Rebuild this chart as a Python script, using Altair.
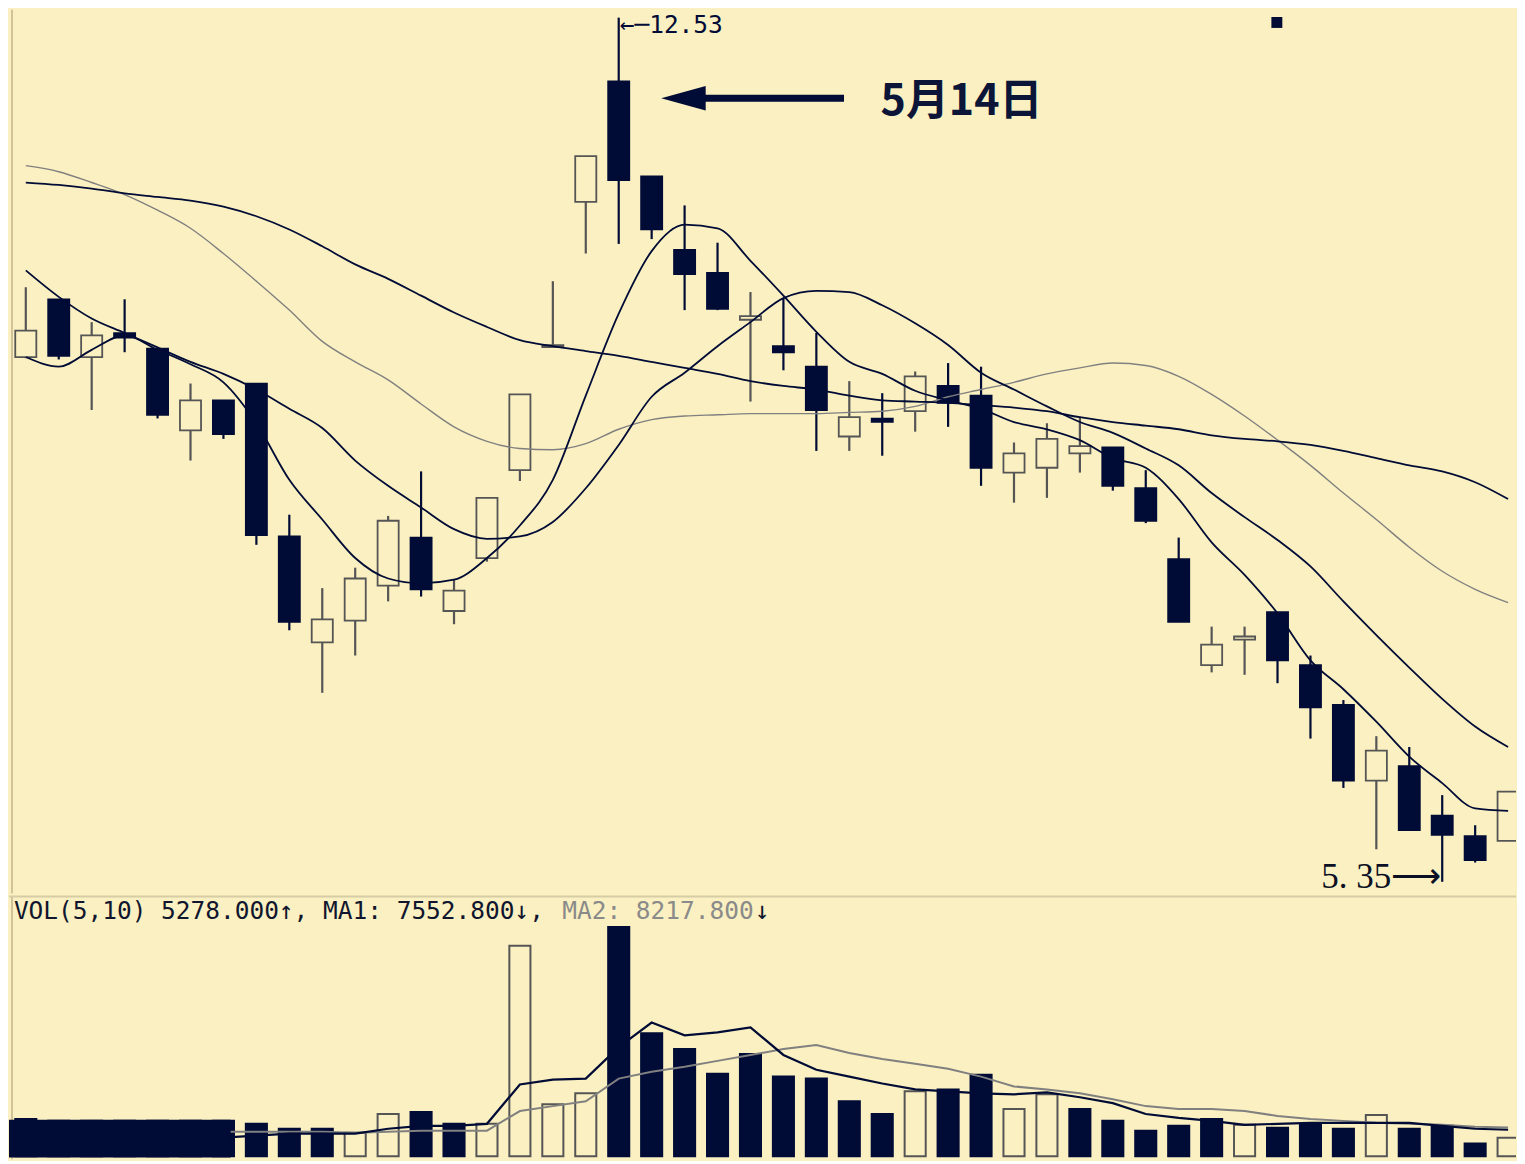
import altair as alt
import pandas as pd

# ---------------- data ----------------
open_ = [9.71, 10.19, 9.71, 9.90, 9.78, 9.10, 9.35, 9.49, 8.22, 7.34,
         7.52, 7.81, 8.21, 7.60, 8.04, 8.77, 9.80, 11.00, 12.00, 11.21,
         10.60, 10.41, 10.02, 9.80, 9.63, 9.05, 9.19, 9.26, 9.47, 9.39,
         8.75, 8.79, 8.91, 8.96, 8.62, 8.03, 7.15, 7.37, 7.59, 7.15,
         6.82, 6.19, 6.31, 5.90, 5.73, 5.69]
close = [9.93, 9.72, 9.89, 9.88, 9.23, 9.35, 9.07, 8.23, 7.51, 7.53,
         7.87, 8.35, 7.78, 7.77, 8.54, 9.40, 9.80, 11.38, 11.18, 10.77,
         10.40, 10.11, 10.05, 9.75, 9.27, 9.21, 9.18, 9.55, 9.33, 8.79,
         8.91, 9.03, 8.97, 8.64, 8.35, 7.51, 7.32, 7.38, 7.19, 6.80,
         6.19, 6.44, 5.78, 5.74, 5.53, 6.10]
high = [10.29, 10.19, 10.00, 10.19, 9.78, 9.49, 9.35, 9.49, 8.40, 7.79,
        7.96, 8.39, 8.76, 7.86, 8.54, 9.40, 10.34, 11.38, 12.53, 11.21,
        10.97, 10.66, 10.25, 10.20, 9.91, 9.51, 9.41, 9.59, 9.66, 9.63,
        9.00, 9.16, 9.21, 8.96, 8.77, 8.21, 7.47, 7.47, 7.59, 7.23,
        6.86, 6.56, 6.47, 6.07, 5.82, 6.10]
low = [9.70, 9.69, 9.27, 9.75, 9.20, 8.85, 9.03, 8.15, 7.44, 6.92,
       7.23, 7.68, 7.72, 7.49, 8.01, 8.68, 9.80, 10.57, 10.65, 10.69,
       10.10, 10.10, 9.34, 9.60, 8.93, 8.93, 8.89, 9.09, 9.13, 8.64,
       8.50, 8.54, 8.75, 8.60, 8.33, 7.51, 7.09, 7.07, 7.00, 6.54,
       6.13, 5.62, 5.78, 5.35, 5.51, 5.69]

ma5 = [9.71, 9.63, 9.77, 9.89, 9.77, 9.65, 9.50, 9.16, 8.69, 8.36,
       8.04, 7.87, 7.83, 7.86, 8.04, 8.31, 8.69, 9.39, 10.07, 10.59,
       10.81, 10.78, 10.51, 10.22, 9.92, 9.67, 9.57, 9.43, 9.35, 9.28,
       9.17, 9.11, 9.02, 8.87, 8.79, 8.53, 8.17, 7.90, 7.58, 7.19,
       6.95, 6.68, 6.39, 6.17, 5.96, 5.94]
ma10 = [10.43, 10.21, 10.03, 9.91, 9.79, 9.67, 9.57, 9.44, 9.28, 9.12,
        8.85, 8.64, 8.46, 8.28, 8.20, 8.22, 8.34, 8.62, 8.98, 9.38,
        9.58, 9.80, 10.00, 10.20, 10.26, 10.25, 10.14, 9.99, 9.81, 9.58,
        9.44, 9.30, 9.17, 9.08, 8.95, 8.81, 8.58, 8.38, 8.19, 7.97,
        7.68, 7.40, 7.13, 6.87, 6.64, 6.47]
ma_slow = [11.16, 11.14, 11.11, 11.07, 11.04, 11.01, 10.96, 10.88, 10.77, 10.63,
           10.48, 10.36, 10.22, 10.08, 9.96, 9.85, 9.80, 9.76, 9.72, 9.67,
           9.62, 9.57, 9.51, 9.47, 9.44, 9.39, 9.35, 9.34, 9.33, 9.31,
           9.29, 9.26, 9.21, 9.17, 9.14, 9.11, 9.06, 9.03, 9.01, 8.98,
           8.93, 8.87, 8.81, 8.76, 8.67, 8.53]
ma_grey = [11.30, 11.25, 11.16, 11.06, 10.93, 10.78, 10.57, 10.34, 10.10, 9.84,
           9.67, 9.52, 9.32, 9.13, 9.01, 8.95, 8.94, 8.99, 9.11, 9.19,
           9.22, 9.23, 9.24, 9.24, 9.24, 9.25, 9.26, 9.30, 9.38, 9.44,
           9.50, 9.57, 9.62, 9.66, 9.64, 9.55, 9.40, 9.22, 9.02, 8.81,
           8.58, 8.36, 8.13, 7.93, 7.78, 7.67]

volume = [10640, 10080, 10080, 10080, 10080, 10080, 10080, 9240, 7840, 7840,
          6720, 12040, 12600, 9240, 9240, 59920, 14840, 17920, 65240, 35000,
          30520, 23520, 29120, 22680, 22120, 15680, 12040, 18480, 19040, 23240,
          13440, 17640, 13440, 10080, 7280, 8680, 10640, 8960, 8120, 9240,
          7840, 11760, 7840, 8680, 3640, 5278]
vol_hollow = [0, 0, 0, 0, 0, 0, 0, 0, 0, 0,
              1, 1, 0, 0, 1, 1, 1, 1, 0, 0,
              0, 0, 0, 0, 0, 0, 0, 1, 0, 0,
              1, 1, 0, 0, 0, 0, 0, 1, 0, 0,
              0, 1, 0, 0, 0, 1]
vol_ma_start = 7
vol_ma1 = [5320, 5880, 6440, 6440, 6440, 7840, 8680, 8680, 9240, 20440,
           21840, 22120, 31080, 38080, 34440, 35280, 36680, 28840, 24640, 22680,
           20720, 19040, 18480, 17920, 17640, 18200, 16800, 15120, 12040, 10920,
           10080, 8960, 9240, 9520, 9520, 9520, 9520, 8680, 7840, 7552.8]
vol_ma2 = [7000, 7000, 7000, 7000, 6720, 7000, 7280, 7280, 7280, 12880,
           14280, 15680, 22120, 24080, 25480, 27160, 28840, 30520, 31640, 29400,
           27720, 26320, 24920, 22680, 19880, 19040, 17920, 16240, 14280, 13440,
           13440, 12880, 11480, 10640, 10080, 9520, 9240, 8960, 8400, 8217.8]
cover_span = [0.49, 7.18]   # dark block hiding the first volume bars
cover_vol = 10080

callout_text = "5月14日"

# ---------------- styling ----------------
BG = "#FBF0C1"
NAVY = "#000B36"
GREY = "#555555"
LGREY = "#808080"
W, H1, H2 = 1509, 885, 263
X_DOMAIN = [0.49, 46.24]
P_DOMAIN = [5.252, 12.5955]
V_DOMAIN = [-840, 73920]
HALF = 0.32

n = len(close)
idx = list(range(1, n + 1))

candles = pd.DataFrame({"idx": idx, "open": open_, "high": high,
                        "low": low, "close": close})
candles["kind"] = ["up" if c >= o else "down" for o, c in zip(open_, close)]

xs = alt.Scale(domain=X_DOMAIN, nice=False, zero=False)
ps = alt.Scale(domain=P_DOMAIN, nice=False, zero=False)
vs = alt.Scale(domain=V_DOMAIN, nice=False, zero=False)
k_fill = alt.Scale(domain=["up", "down"], range=[BG, NAVY])
k_stroke = alt.Scale(domain=["up", "down"], range=[GREY, NAVY])

X = lambda f: alt.X(f, scale=xs, axis=None)
YP = lambda f: alt.Y(f, scale=ps, axis=None)
YV = lambda f: alt.Y(f, scale=vs, axis=None)

base = alt.Chart(candles)
wick = base.mark_rule(strokeWidth=2.2).encode(
    x=X("idx:Q"), y=YP("low:Q"), y2="high:Q",
    stroke=alt.Stroke("kind:N", scale=k_stroke, legend=None))
body = base.transform_calculate(
    x1=f"datum.idx - {HALF}", x2=f"datum.idx + {HALF}",
    top="max(datum.open, datum.close) + (abs(datum.open - datum.close) < 0.02 ? 0.008 : 0)",
    bot="min(datum.open, datum.close) - (abs(datum.open - datum.close) < 0.02 ? 0.008 : 0)",
).mark_bar(strokeWidth=1.8, clip=True).encode(
    x=X("x1:Q"), x2="x2:Q", y=YP("top:Q"), y2="bot:Q",
    fill=alt.Fill("kind:N", scale=k_fill, legend=None),
    stroke=alt.Stroke("kind:N", scale=k_stroke, legend=None))

ma = pd.DataFrame({"idx": idx, "ma5": ma5, "ma10": ma10,
                   "ma_slow": ma_slow, "ma_grey": ma_grey})


def ma_line(field, color, width):
    return alt.Chart(ma).mark_line(color=color, strokeWidth=width, clip=True,
                                   interpolate="monotone").encode(
        x=X("idx:Q"), y=YP(f"{field}:Q"))


lines = [ma_line("ma_grey", LGREY, 1.4), ma_line("ma_slow", NAVY, 1.8),
         ma_line("ma10", NAVY, 1.8), ma_line("ma5", NAVY, 1.8)]

peak = base.transform_joinaggregate(hmax="max(high)").transform_filter(
    "datum.high == datum.hmax").transform_calculate(
    label="'←─' + format(datum.high, '.2f')").mark_text(
    align="left", baseline="middle", dx=1, dy=8, font="DejaVu Sans Mono",
    fontSize=24.5, color=NAVY).encode(x=X("idx:Q"), y=YP("high:Q"), text="label:N")

trough = base.transform_joinaggregate(lmin="min(low)").transform_filter(
    "datum.low == datum.lmin").transform_calculate(
    label="replace(format(datum.low, '.2f'), '.', '. ') + '⟶'").mark_text(
    align="right", baseline="middle", dx=-1, dy=-5, font="Liberation Serif",
    fontSize=35, color="#0a0f24").encode(x=X("idx:Q"), y=YP("low:Q"), text="label:N")

ann = pd.DataFrame({"head": [20.965], "shaft_from": [21.25], "shaft_to": [25.84],
                    "text_at": [26.95], "price": [11.86], "text_price": [11.83]})
arrow_shaft = alt.Chart(ann).mark_rule(color=NAVY, strokeWidth=7).encode(
    x=X("shaft_from:Q"), x2="shaft_to:Q", y=YP("price:Q"))
arrow_head = alt.Chart(ann).mark_point(
    shape="M -1 0 L 1 -0.55 L 1 0.55 Z", size=1980, filled=True,
    color=NAVY, opacity=1, strokeWidth=0).encode(x=X("head:Q"), y=YP("price:Q"))
callout = alt.Chart(ann).mark_text(
    align="left", baseline="middle", font="Noto Sans CJK SC", fontSize=43,
    fontWeight="bold", color="#0b1538", text=callout_text).encode(
    x=X("text_at:Q"), y=YP("text_price:Q"))

star = alt.Chart(pd.DataFrame({"i": [38.98], "p": [12.49]})).mark_point(
    shape="square", size=120, filled=True, color=NAVY, opacity=1).encode(
    x=X("i:Q"), y=YP("p:Q"))

one = pd.DataFrame({"a": [0]})
left_border1 = alt.Chart(one).mark_rule(color="#c4b48a", strokeWidth=1.5).encode(
    x=alt.value(3), y=alt.value(0), y2=alt.value(H1))

price = alt.layer(left_border1, wick, body, *lines, peak, trough, arrow_shaft,
                  arrow_head, callout, star).properties(width=W, height=H1)

# ---------------- volume panel ----------------
vol = pd.DataFrame({"idx": idx, "vol": volume,
                    "vkind": ["up" if h else "down" for h in vol_hollow]})
vbars = alt.Chart(vol).transform_calculate(
    x1=f"datum.idx - {HALF}", x2=f"datum.idx + {HALF}", zero="0"
).mark_bar(strokeWidth=2, clip=True).encode(
    x=X("x1:Q"), x2="x2:Q", y=YV("vol:Q"), y2="zero:Q",
    fill=alt.Fill("vkind:N", scale=k_fill, legend=None),
    stroke=alt.Stroke("vkind:N", scale=k_stroke, legend=None))

cover = alt.Chart(pd.DataFrame({"x1": [cover_span[0]], "x2": [cover_span[1]],
                                "vol": [cover_vol], "zero": [0]})).mark_bar(
    color=NAVY, stroke=NAVY, strokeWidth=2.5, clip=True).encode(
    x=X("x1:Q"), x2="x2:Q", y=YV("vol:Q"), y2="zero:Q")

vma = pd.DataFrame({"idx": list(range(vol_ma_start, n + 1)),
                    "ma1": vol_ma1, "ma2": vol_ma2})
vma2_line = alt.Chart(vma).mark_line(color=LGREY, strokeWidth=2, clip=True).encode(
    x=X("idx:Q"), y=YV("ma2:Q"))
vma1_line = alt.Chart(vma).mark_line(color=NAVY, strokeWidth=2.2, clip=True).encode(
    x=X("idx:Q"), y=YV("ma1:Q"))

legend_dark = f"VOL(5,10) {volume[-1]:.3f}↑, MA1: {vol_ma1[-1]:.3f}↓,"
legend_grey = f"MA2: {vol_ma2[-1]:.3f}"
CH = 14.84
leg_style = dict(align="left", baseline="middle", font="DejaVu Sans Mono", fontSize=24.5)
leg1 = alt.Chart(one).mark_text(color="#10162e", **leg_style).encode(
    x=alt.value(4.9), y=alt.value(15), text=alt.value(legend_dark))
leg2 = alt.Chart(one).mark_text(color="#8a8a8a", **leg_style).encode(
    x=alt.value(4.9 + 37 * CH), y=alt.value(15), text=alt.value(legend_grey))
leg3 = alt.Chart(one).mark_text(color="#10162e", **leg_style).encode(
    x=alt.value(4.9 + 50 * CH), y=alt.value(15), text=alt.value("↓"))

sep = alt.Chart(one).mark_rule(color="#d6cca6", strokeWidth=2).encode(
    x=alt.value(0), x2=alt.value(W), y=alt.value(0))
left_border2 = alt.Chart(one).mark_rule(color="#c4b48a", strokeWidth=1.5).encode(
    x=alt.value(3), y=alt.value(0), y2=alt.value(H2))

volume_panel = alt.layer(left_border2, sep, vbars, vma2_line, vma1_line, cover,
                         leg1, leg2, leg3).properties(width=W, height=H2)

chart = alt.vconcat(price, volume_panel, spacing=0).properties(
    background=BG, padding=0).configure_view(stroke=None)

chart.save("out.html", embed_options={"renderer": "svg", "actions": False})
